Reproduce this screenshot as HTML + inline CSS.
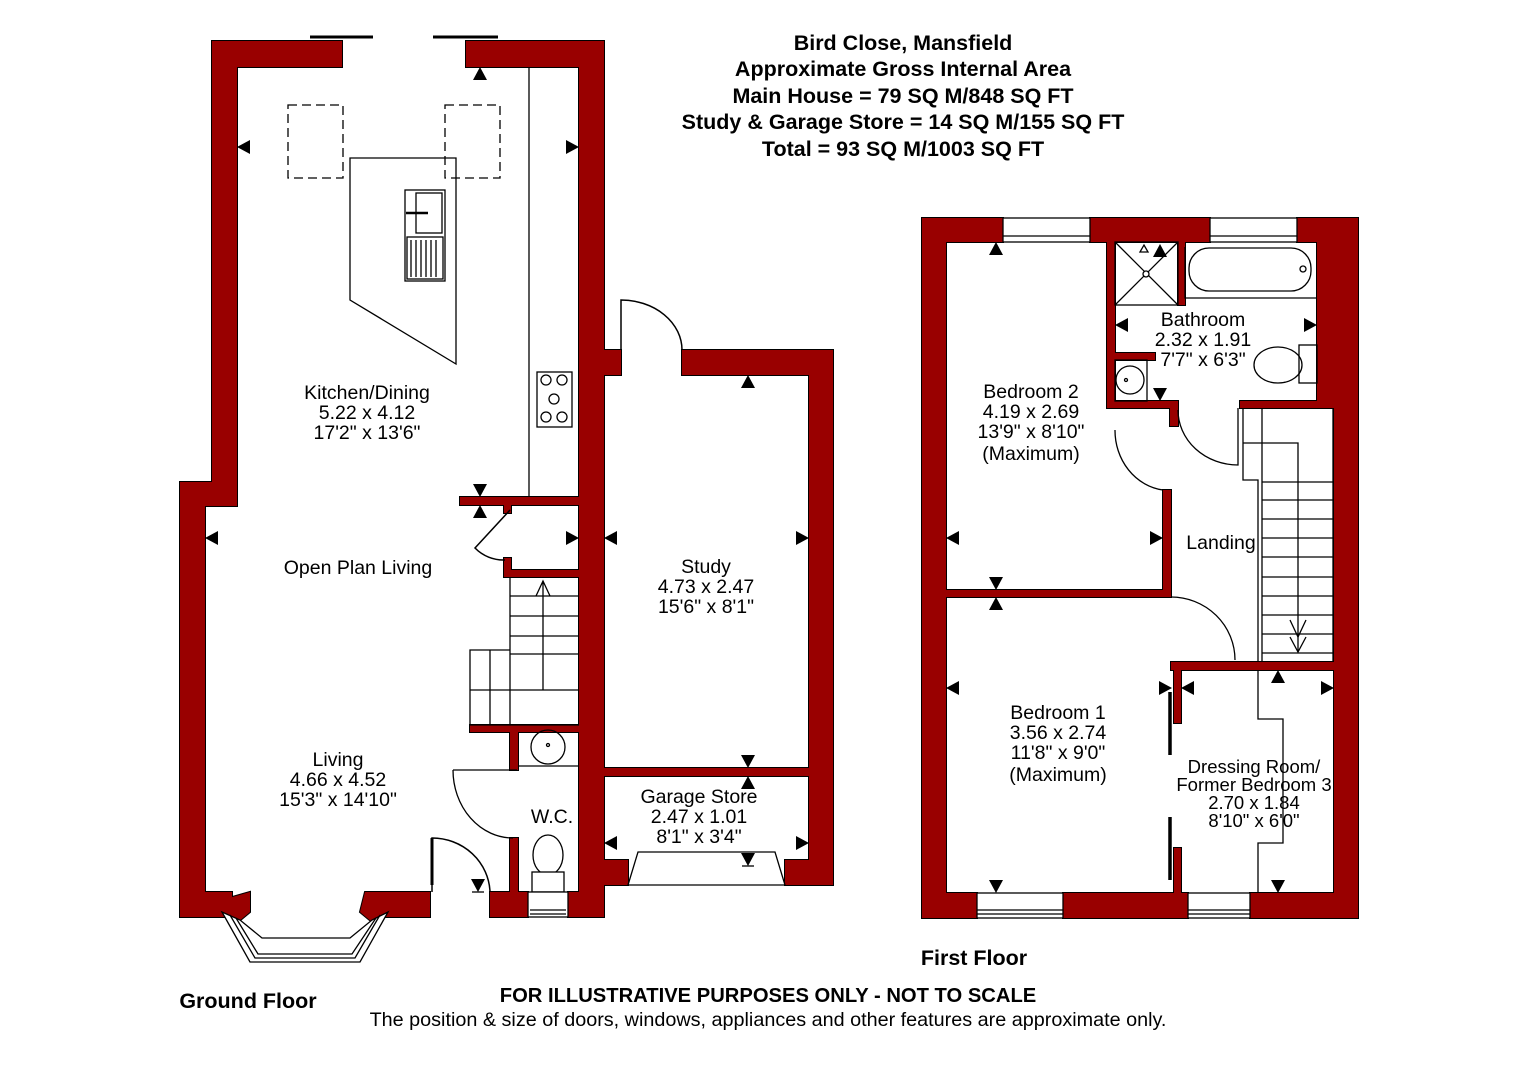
<!DOCTYPE html>
<html><head><meta charset="utf-8"><style>
html,body{margin:0;padding:0;background:#fff;}
svg{display:block;}
text{font-family:"Liberation Sans",Arial,sans-serif;fill:#000;}
.t{font-weight:bold;font-size:21.5px;}
.r{font-size:19.5px;}
</style></head><body>
<svg width="1528" height="1080" viewBox="0 0 1528 1080" xmlns="http://www.w3.org/2000/svg">
<defs>
<g id="walls">
<rect x="212" y="41" width="130" height="26"/>
<rect x="466" y="41" width="138" height="26"/>
<rect x="212" y="41" width="25" height="465"/>
<rect x="180" y="482" width="57" height="24"/>
<rect x="180" y="482" width="25" height="435"/>
<rect x="180" y="892" width="52" height="25"/>
<polygon points="222,900 250,892 250,912 238,922 228,918"/>
<polygon points="365,892 430,892 430,917 382,917 372,922 360,912"/>
<rect x="490" y="892" width="38" height="25"/>
<rect x="568" y="892" width="36" height="25"/>
<rect x="579" y="41" width="25" height="876"/>
<rect x="460" y="497" width="119" height="8"/>
<rect x="504" y="497" width="7" height="16"/>
<rect x="504" y="570" width="75" height="7"/>
<rect x="504" y="558" width="7" height="19"/>
<rect x="470" y="725" width="109" height="7"/>
<rect x="510" y="725" width="8" height="45"/>
<rect x="510" y="838" width="8" height="54"/>
<rect x="600" y="350" width="21" height="25"/>
<rect x="682" y="350" width="151" height="25"/>
<rect x="809" y="350" width="24" height="535"/>
<rect x="600" y="768" width="209" height="8"/>
<rect x="600" y="860" width="28" height="25"/>
<rect x="785" y="860" width="48" height="25"/>
<rect x="922" y="218" width="81" height="24"/>
<rect x="1090" y="218" width="120" height="24"/>
<rect x="1297" y="218" width="61" height="24"/>
<rect x="922" y="218" width="24" height="700"/>
<rect x="1334" y="218" width="24" height="700"/>
<rect x="1317" y="218" width="20" height="190"/>
<rect x="922" y="893" width="55" height="25"/>
<rect x="1063" y="893" width="125" height="25"/>
<rect x="1250" y="893" width="108" height="25"/>
<rect x="1107" y="242" width="8" height="166"/>
<rect x="1178" y="242" width="7" height="63"/>
<rect x="1107" y="353" width="48" height="7"/>
<rect x="1107" y="401" width="71" height="7"/>
<rect x="1170" y="401" width="8" height="25"/>
<rect x="1240" y="401" width="80" height="7"/>
<rect x="1163" y="490" width="8" height="107"/>
<rect x="946" y="590" width="225" height="7"/>
<rect x="1171" y="662" width="166" height="8"/>
<rect x="1174" y="662" width="7" height="61"/>
<rect x="1174" y="848" width="7" height="47"/>
</g>
<polygon id="ar" points="0,0 7,13 -7,13"/>
</defs>
<use href="#walls" fill="none" stroke="#000" stroke-width="2"/>
<use href="#walls" fill="#990000"/>

<g fill="none" stroke="#000" stroke-width="1.3">
<line x1="310" y1="37" x2="373" y2="37" stroke-width="3"/>
<line x1="433" y1="37" x2="498" y2="37" stroke-width="3"/>
<rect x="288" y="105" width="55" height="73" stroke-dasharray="9,5"/>
<rect x="445" y="105" width="55" height="73" stroke-dasharray="9,5"/>
<polygon points="350,158 456,158 456,364 350,300"/>
<rect x="405" y="190" width="40" height="91"/>
<rect x="416" y="193" width="26" height="40"/>
<rect x="407" y="237" width="36" height="42"/>
<path d="M411,240V277M416,240V277M421,240V277M426,240V277M431,240V277M436,240V277"/>
<path d="M406,213H428" stroke-width="2.5"/>
<line x1="529" y1="67" x2="529" y2="497"/>
<rect x="537" y="372" width="35" height="55"/>
<circle cx="546" cy="380" r="5"/><circle cx="562" cy="380" r="5"/><circle cx="554" cy="399" r="5"/><circle cx="546" cy="417" r="5"/><circle cx="562" cy="417" r="5"/>
<path d="M510,510 L475,548 A40,40 0 0 0 505,560" stroke-width="1.5"/>
<path d="M510,577V650H470V725H579M510,596H579M510,616H579M510,636H579M510,654H579M470,690H579M490,650V725M510,650V725"/>
<path d="M543,690V581M536,596L543,581L550,596"/>
<path d="M518,766H579M453,770H517"/>
<path d="M453,770 A60,68 0 0 0 513,838"/>
<circle cx="548" cy="747" r="17"/><circle cx="548" cy="745" r="1.5"/>
<ellipse cx="548" cy="855" rx="15" ry="20"/>
<rect x="532" y="872" width="32" height="20" fill="#fff"/>
<rect x="528" y="892" width="40" height="25" fill="#fff"/>
<path d="M530,910H566M530,914H566"/>
<path d="M432,892V838 A58,56 0 0 1 490,892" stroke-width="1.5"/>
<line x1="432" y1="838" x2="432" y2="885" stroke-width="3"/>
<polygon points="222,912 250,962 360,962 388,912 372,920 350,938 262,938 240,920" fill="#fff"/>
<path d="M230,915L255,958H355L380,915M236,918L258,954H352L376,918"/>
<path d="M621,350V300 A61,50 0 0 1 682,350" stroke-width="1.5"/>
<polygon points="628,885 785,885 775,852 638,852" fill="#fff"/>
<path d="M742,866H754"/>
<path d="M472,892H484"/>
<rect x="1003" y="218" width="87" height="24" fill="#fff"/>
<path d="M1003,236H1090"/>
<rect x="1210" y="218" width="87" height="24" fill="#fff"/>
<path d="M1210,236H1297"/>
<rect x="977" y="893" width="86" height="25" fill="#fff"/>
<path d="M977,910H1063M977,914H1063"/>
<rect x="1188" y="893" width="62" height="25" fill="#fff"/>
<path d="M1188,910H1250M1188,914H1250"/>
<rect x="1115" y="242" width="63" height="63"/>
<path d="M1115,242L1178,305M1178,242L1115,305"/>
<circle cx="1146" cy="274" r="3" fill="#fff"/>
<path d="M1140,252L1144,245L1148,252Z"/>
<path d="M1185,247V298H1317"/>
<rect x="1189" y="248" width="122" height="43" rx="20"/>
<circle cx="1303" cy="269" r="3"/>
<ellipse cx="1278" cy="365" rx="24" ry="18"/>
<rect x="1299" y="345" width="18" height="38"/>
<rect x="1115" y="360" width="32" height="41"/>
<circle cx="1130" cy="380" r="14"/><circle cx="1126" cy="380" r="1.5"/>
<path d="M1178,410 A60,55 0 0 0 1238,465 V408" stroke-width="1.3"/>
<path d="M1115,430 A55,60 0 0 0 1163,490"/>
<path d="M1171,597 A64,63 0 0 1 1235,660"/>
<path d="M1243,408V480H1258V662M1262,408V662M1333,408V662M1243,443H1298V652M1262,482H1333M1262,500H1333M1262,519H1333M1262,538H1333M1262,557H1333M1262,577H1333M1262,596H1333M1262,615H1333M1262,634H1333M1262,653H1333"/>
<path d="M1290,620L1298,637L1306,620M1290,637L1298,652L1306,637"/>
<path d="M1258,670V719H1283V843H1258V893"/>
<path d="M1170,692V755M1170,817V880" stroke-width="3.5"/>
</g>

<g fill="#000">
<use href="#ar" transform="translate(237,147) rotate(-90)"/>
<use href="#ar" transform="translate(579,147) rotate(90)"/>
<use href="#ar" transform="translate(480,67)"/>
<use href="#ar" transform="translate(480,497) rotate(180)"/>
<use href="#ar" transform="translate(480,505)"/>
<use href="#ar" transform="translate(205,538) rotate(-90)"/>
<use href="#ar" transform="translate(579,538) rotate(90)"/>
<use href="#ar" transform="translate(478,892) rotate(180)"/>
<use href="#ar" transform="translate(748,375)"/>
<use href="#ar" transform="translate(604,538) rotate(-90)"/>
<use href="#ar" transform="translate(809,538) rotate(90)"/>
<use href="#ar" transform="translate(748,768) rotate(180)"/>
<use href="#ar" transform="translate(748,776)"/>
<use href="#ar" transform="translate(604,843) rotate(-90)"/>
<use href="#ar" transform="translate(809,843) rotate(90)"/>
<use href="#ar" transform="translate(748,866) rotate(180)"/>
<use href="#ar" transform="translate(996,242)"/>
<use href="#ar" transform="translate(1160,244)"/>
<use href="#ar" transform="translate(1115,325) rotate(-90)"/>
<use href="#ar" transform="translate(1317,325) rotate(90)"/>
<use href="#ar" transform="translate(1160,401) rotate(180)"/>
<use href="#ar" transform="translate(946,538) rotate(-90)"/>
<use href="#ar" transform="translate(1163,538) rotate(90)"/>
<use href="#ar" transform="translate(996,590) rotate(180)"/>
<use href="#ar" transform="translate(996,597)"/>
<use href="#ar" transform="translate(946,688) rotate(-90)"/>
<use href="#ar" transform="translate(1172,688) rotate(90)"/>
<use href="#ar" transform="translate(1181,688) rotate(-90)"/>
<use href="#ar" transform="translate(1278,670)"/>
<use href="#ar" transform="translate(1334,688) rotate(90)"/>
<use href="#ar" transform="translate(996,893) rotate(180)"/>
<use href="#ar" transform="translate(1278,893) rotate(180)"/>
</g>

<g text-anchor="middle">
<text class="t" x="903" y="50">Bird Close, Mansfield</text>
<text class="t" x="903" y="76">Approximate Gross Internal Area</text>
<text class="t" x="903" y="103">Main House = 79 SQ M/848 SQ FT</text>
<text class="t" x="903" y="129">Study &amp; Garage Store = 14 SQ M/155 SQ FT</text>
<text class="t" x="903" y="156">Total = 93 SQ M/1003 SQ FT</text>

<text class="r" x="367" y="399">Kitchen/Dining</text>
<text class="r" x="367" y="419">5.22 x 4.12</text>
<text class="r" x="367" y="439">17'2" x 13'6"</text>
<text class="r" x="358" y="574">Open Plan Living</text>
<text class="r" x="338" y="766">Living</text>
<text class="r" x="338" y="786">4.66 x 4.52</text>
<text class="r" x="338" y="806">15'3" x 14'10"</text>
<text class="r" x="552" y="823">W.C.</text>
<text class="r" x="706" y="573">Study</text>
<text class="r" x="706" y="593">4.73 x 2.47</text>
<text class="r" x="706" y="613">15'6" x 8'1"</text>
<text class="r" x="699" y="803">Garage Store</text>
<text class="r" x="699" y="823">2.47 x 1.01</text>
<text class="r" x="699" y="843">8'1" x 3'4"</text>

<text class="r" x="1031" y="398">Bedroom 2</text>
<text class="r" x="1031" y="418">4.19 x 2.69</text>
<text class="r" x="1031" y="438">13'9" x 8'10"</text>
<text class="r" x="1031" y="460">(Maximum)</text>
<text class="r" x="1203" y="326">Bathroom</text>
<text class="r" x="1203" y="346">2.32 x 1.91</text>
<text class="r" x="1203" y="366">7'7" x 6'3"</text>
<text class="r" x="1221" y="549">Landing</text>
<text class="r" x="1058" y="719">Bedroom 1</text>
<text class="r" x="1058" y="739">3.56 x 2.74</text>
<text class="r" x="1058" y="759">11'8" x 9'0"</text>
<text class="r" x="1058" y="781">(Maximum)</text>
<text class="r" style="font-size:18.5px" x="1254" y="773">Dressing Room/</text>
<text class="r" style="font-size:18.5px" x="1254" y="791">Former Bedroom 3</text>
<text class="r" style="font-size:18.5px" x="1254" y="809">2.70 x 1.84</text>
<text class="r" style="font-size:18.5px" x="1254" y="827">8'10" x 6'0"</text>

<text class="t" x="974" y="965">First Floor</text>
<text class="t" x="248" y="1008">Ground Floor</text>
<text class="t" x="768" y="1002" style="font-size:20.2px">FOR ILLUSTRATIVE PURPOSES ONLY - NOT TO SCALE</text>
<text x="768" y="1026" style="font-size:19.8px">The position &amp; size of doors, windows, appliances and other features are approximate only.</text>
</g>
</svg>
</body></html>
